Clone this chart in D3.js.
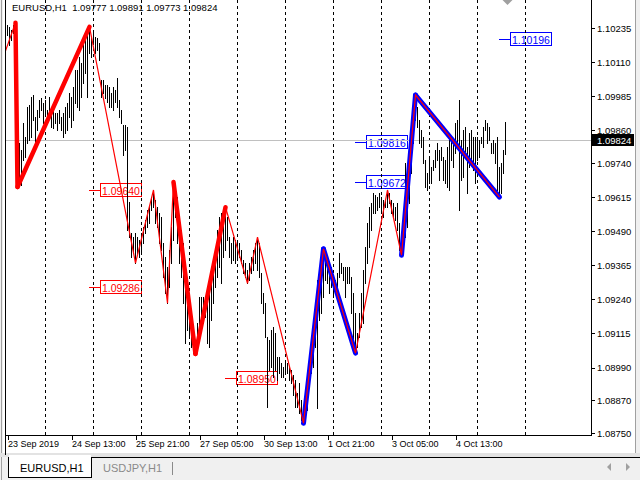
<!DOCTYPE html>
<html><head><meta charset="utf-8">
<script src="https://cdn.jsdelivr.net/npm/d3@7"></script>
<style>
body{margin:0;background:#f0f0f0}
svg{display:block}
text{font-family:"Liberation Sans",Arial,sans-serif}
</style>
</head><body>
<svg id="c" width="640" height="480"></svg>
<script>
const symbolName = "EURUSD,H1";
const lastOHLC = ["1.09777", "1.09891", "1.09773", "1.09824"];
const bidPrice = 1.09824;

// hourly bars, high and low
const highs = [
  1.10246,1.10239,1.10228,1.10246,1.10254,1.10166,1.09813,1.09788,1.09887,1.09835,
  1.09945,1.09953,1.09982,1.09989,1.09909,1.09934,1.09971,1.09978,1.09960,1.09971,
  1.09934,1.09982,1.09945,1.09934,1.09923,1.09923,1.09934,1.09909,1.09923,1.09945,
  1.09960,1.09997,1.09982,1.10019,1.10081,1.10081,1.10129,1.10107,1.10180,1.10202,
  1.10228,1.10239,1.10202,1.10228,1.10202,1.10199,1.10180,1.10044,1.10044,1.10026,
  1.10026,1.10019,1.09997,1.10019,1.10008,1.10052,1.09971,1.09934,1.09880,1.09880,
  1.09872,1.09597,1.09483,1.09468,1.09483,1.09468,1.09457,1.09483,1.09505,1.09531,
  1.09567,1.09578,1.09615,1.09641,1.09604,1.09578,1.09556,1.09542,1.09446,1.09395,
  1.09358,1.09421,1.09505,1.09670,1.09652,1.09615,1.09542,1.09494,1.09446,1.09347,
  1.09299,1.09226,1.09200,1.09138,1.09090,1.09153,1.09248,1.09248,1.09248,1.09226,
  1.09226,1.09263,1.09321,1.09395,1.09410,1.09494,1.09542,1.09556,1.09567,1.09578,
  1.09542,1.09468,1.09446,1.09468,1.09457,1.09446,1.09446,1.09421,1.09384,1.09373,
  1.09347,1.09373,1.09395,1.09421,1.09446,1.09468,1.09446,1.09336,1.09263,1.09226,
  1.09101,1.09090,1.09127,1.09138,1.09116,1.09028,1.09028,1.09006,1.08991,1.09006,
  1.09006,1.08991,1.08980,1.08962,1.08943,1.08896,1.08932,1.08870,1.08844,1.08907,
  1.08969,1.09028,1.09065,1.09138,1.09200,1.09310,1.09358,1.09384,1.09425,1.09410,
  1.09384,1.09373,1.09358,1.09321,1.09310,1.09336,1.09410,1.09373,1.09358,1.09358,
  1.09358,1.09358,1.09321,1.09263,1.09189,1.09116,1.09189,1.09263,1.09347,1.09432,
  1.09520,1.09578,1.09593,1.09630,1.09622,1.09615,1.09630,1.09615,1.09604,1.09604,
  1.09641,1.09630,1.09604,1.09593,1.09578,1.09593,1.09520,1.09468,1.09567,1.09740,
  1.09725,1.09824,1.09898,1.09960,1.09989,1.09945,1.09898,1.09861,1.09835,1.09751,
  1.09703,1.09762,1.09725,1.09751,1.09788,1.09813,1.09788,1.09799,1.09762,1.09751,
  1.09799,1.09824,1.09835,1.09824,1.09887,1.09898,1.09971,1.09824,1.09861,1.09872,
  1.09799,1.09850,1.09861,1.09835,1.09835,1.09835,1.09824,1.09835,1.09872,1.09898,
  1.09887,1.09872,1.09813,1.09824,1.09813,1.09835,1.09725,1.09740,1.09788,1.09891
];
const lows = [
  1.10210,1.10173,1.10191,1.10217,1.10100,1.09652,1.09666,1.09659,1.09751,1.09762,
  1.09813,1.09824,1.09835,1.09898,1.09813,1.09861,1.09909,1.09934,1.09887,1.09923,
  1.09887,1.09909,1.09872,1.09868,1.09887,1.09861,1.09887,1.09861,1.09835,1.09850,
  1.09861,1.09909,1.09872,1.09898,1.09960,1.09945,1.09934,1.09982,1.10033,1.10070,
  1.09982,1.10143,1.10129,1.10180,1.10143,1.10155,1.10118,1.09982,1.09997,1.09978,
  1.09964,1.09945,1.09945,1.09934,1.09964,1.09945,1.09909,1.09887,1.09769,1.09788,
  1.09494,1.09468,1.09395,1.09410,1.09373,1.09410,1.09395,1.09410,1.09446,1.09483,
  1.09505,1.09520,1.09567,1.09578,1.09520,1.09505,1.09446,1.09421,1.09321,1.09263,
  1.09226,1.09285,1.09373,1.09457,1.09542,1.09446,1.09373,1.09321,1.09226,1.09079,
  1.09127,1.09101,1.09065,1.09043,1.09040,1.09065,1.09101,1.09127,1.09153,1.09175,
  1.09079,1.09065,1.09164,1.09226,1.09285,1.09321,1.09358,1.09299,1.09395,1.09421,
  1.09457,1.09395,1.09373,1.09384,1.09373,1.09384,1.09395,1.09373,1.09336,1.09321,
  1.09299,1.09310,1.09336,1.09347,1.09373,1.09347,1.09321,1.09226,1.09189,1.09101,
  1.08844,1.08980,1.08991,1.08954,1.08980,1.08943,1.08969,1.08954,1.08954,1.08969,
  1.08969,1.08943,1.08932,1.08888,1.08844,1.08844,1.08822,1.08797,1.08786,1.08808,
  1.08833,1.08918,1.08969,1.08991,1.09065,1.08841,1.09164,1.09189,1.09248,1.09310,
  1.09299,1.09263,1.09285,1.09248,1.09263,1.09285,1.09321,1.09336,1.09310,1.09248,
  1.09299,1.09299,1.09189,1.09090,1.09043,1.09065,1.09101,1.09138,1.09153,1.09299,
  1.09373,1.09432,1.09494,1.09556,1.09556,1.09567,1.09578,1.09556,1.09542,1.09578,
  1.09578,1.09593,1.09556,1.09542,1.09531,1.09494,1.09421,1.09402,1.09410,1.09468,
  1.09505,1.09593,1.09703,1.09813,1.09898,1.09872,1.09813,1.09799,1.09740,1.09652,
  1.09641,1.09666,1.09666,1.09714,1.09725,1.09751,1.09677,1.09751,1.09677,1.09666,
  1.09652,1.09641,1.09751,1.09725,1.09777,1.09799,1.09567,1.09677,1.09688,1.09762,
  1.09630,1.09725,1.09751,1.09714,1.09666,1.09751,1.09762,1.09813,1.09799,1.09861,
  1.09813,1.09824,1.09777,1.09777,1.09740,1.09641,1.09615,1.09630,1.09703,1.09773
];

const priceTicks = ["1.10235","1.10110","1.09985","1.09860","1.09740","1.09615","1.09490",
                    "1.09365","1.09240","1.09115","1.08990","1.08870","1.08750"];
const timeLabels = ["23 Sep 2019","24 Sep 13:00","25 Sep 21:00","27 Sep 05:00",
                    "30 Sep 13:00","1 Oct 21:00","3 Oct 05:00","4 Oct 13:00"];
const timeLabelBars = [0, 32, 64, 96, 128, 160, 192, 224];

// zigzag pivots (bar index, price)
const pivotBars = [-3, 4, 5, 41, 64, 73, 80, 83, 94, 109, 120, 125, 148, 158, 174, 190, 197, 204, 246];
const pivotPrices = [1.10110, 1.10254, 1.09652, 1.10239, 1.09373, 1.09641, 1.09226, 1.09670, 1.09040,
                     1.09578, 1.09299, 1.09468, 1.08786, 1.09425, 1.09043, 1.09641, 1.09402, 1.09989, 1.09615];
const redLegs = [[4, 5], [5, 41], [83, 94], [94, 109]];
const blueLegs = [[148, 158], [158, 174], [197, 204], [204, 246]];

// price level labels
const levelBars = [41, 41, 109, 174, 174, 246];
const levelPrices = [1.09640, 1.09286, 1.08950, 1.09816, 1.09672, 1.10196];
const levelColors = ["#ff0000", "#ff0000", "#ff0000", "#0000ff", "#0000ff", "#0000ff"];

const tabNames = ["EURUSD,H1", "USDJPY,H1"];

// ---------------------------------------------------------------
const svg = d3.select("#c");
const plotL = 6, plotR = 591, plotT = 0, plotB = 435;
const x = d3.scaleLinear().domain([0, 292]).range([7, 591]);
const y = d3.scaleLinear().domain([1.08750, 1.10235]).range([433, 28]);
const px = b => x(b) + 0.5;
const pivot = b => pivotPrices[pivotBars.indexOf(b)];

// window background
svg.append("rect").attr("width", 640).attr("height", 480).attr("fill", "#f0f0f0");
svg.append("rect").attr("x", 3).attr("y", 0).attr("width", 632).attr("height", 454).attr("fill", "#fff");
svg.append("line").attr("x1", 1.5).attr("x2", 1.5).attr("y1", 0).attr("y2", 480).attr("stroke", "#a0a0a0");
svg.append("line").attr("x1", 635.5).attr("x2", 635.5).attr("y1", 0).attr("y2", 455).attr("stroke", "#a0a0a0");
svg.append("rect").attr("x", 0).attr("y", 453).attr("width", 640).attr("height", 4).attr("fill", "#e3e3e3");

svg.append("defs").append("clipPath").attr("id", "plot")
  .append("rect").attr("x", plotL).attr("y", plotT).attr("width", plotR - plotL).attr("height", plotB - plotT);

const plot = svg.append("g").attr("clip-path", "url(#plot)");

// level labels (background objects)
const lv = plot.append("g").selectAll("g").data(levelPrices).join("g")
  .attr("transform", (d, i) => `translate(${x(levelBars[i])},${Math.round(y(d)) + 0.5})`);
lv.append("line").attr("x1", 0).attr("x2", 11).attr("stroke", (d, i) => levelColors[i]);
lv.append("rect").attr("x", 11.5).attr("y", -7).attr("width", 41).attr("height", 13)
  .attr("fill", "#fff").attr("stroke", (d, i) => levelColors[i]).attr("shape-rendering", "crispEdges");
lv.append("text").attr("x", 13).attr("y", 4).attr("font-size", "10.5px")
  .attr("fill", (d, i) => levelColors[i]).text(d => d3.format(".5f")(d));

// dashed vertical grid
plot.append("g").selectAll("line").data(d3.range(19, 262, 24)).join("line")
  .attr("x1", d => px(d)).attr("x2", d => px(d)).attr("y1", plotT).attr("y2", plotB)
  .attr("stroke", "#000").attr("stroke-dasharray", "3,3").attr("shape-rendering", "crispEdges");

// bid line
plot.append("line").attr("x1", plotL).attr("x2", plotR)
  .attr("y1", Math.round(y(bidPrice)) + 0.5).attr("y2", Math.round(y(bidPrice)) + 0.5)
  .attr("stroke", "#c0c0c0");

// bars
plot.append("g").selectAll("line").data(highs).join("line")
  .attr("x1", (d, i) => px(i)).attr("x2", (d, i) => px(i))
  .attr("y1", d => Math.round(y(d))).attr("y2", (d, i) => Math.round(y(lows[i])) + 1)
  .attr("stroke", "#000").attr("shape-rendering", "crispEdges");

// zigzag legs
const legLine = (legs, color, w) => plot.append("g").selectAll("line").data(legs).join("line")
  .attr("x1", d => px(d[0])).attr("y1", d => y(pivot(d[0])))
  .attr("x2", d => px(d[1])).attr("y2", d => y(pivot(d[1])))
  .attr("stroke", color).attr("stroke-width", w).attr("stroke-linecap", "round");
legLine(redLegs, "#ff0000", 4.5);
legLine(blueLegs, "#0000ff", 5);

const zz = d3.line().x(d => px(d)).y(d => y(pivot(d)));
plot.append("path").attr("d", zz(pivotBars)).attr("fill", "none")
  .attr("stroke", "#ff0000").attr("stroke-width", 1.2);

// shift marker
svg.append("path").attr("d", d3.line()([[px(249) - 3, 0], [px(249) + 7, 0], [px(249) + 2, 5]]) + "Z")
  .attr("fill", "#a0a0a0");

// frame lines
svg.append("line").attr("x1", plotL - 0.5).attr("x2", plotL - 0.5).attr("y1", 0).attr("y2", 455).attr("stroke", "#000");
svg.append("line").attr("x1", plotR + 0.5).attr("x2", plotR + 0.5).attr("y1", 0).attr("y2", plotB + 1).attr("stroke", "#000");
svg.append("line").attr("x1", plotL).attr("x2", plotR + 1).attr("y1", plotB + 0.5).attr("y2", plotB + 0.5).attr("stroke", "#000");

// price axis
const ya = svg.append("g").attr("transform", `translate(${plotR + 1},0)`)
  .attr("shape-rendering", "crispEdges")
  .call(d3.axisRight(y).tickValues(priceTicks.map(Number)).tickFormat((d, i) => priceTicks[i])
    .tickSize(3).tickPadding(2).tickSizeOuter(0));
ya.select(".domain").remove();
ya.selectAll("text").attr("font-size", "9.5px").attr("font-family", "Liberation Sans, Arial, sans-serif").attr("fill", "#000");

// bid price box
const by = Math.round(y(bidPrice));
svg.append("rect").attr("x", plotR + 1).attr("y", by - 6).attr("width", 42).attr("height", 12).attr("fill", "#000");
svg.append("text").attr("x", 597).attr("y", by + 3.5).attr("font-size", "9.5px").attr("fill", "#fff")
  .text(d3.format(".5f")(bidPrice));

// time axis
const xa = svg.append("g").attr("transform", `translate(0.5,${plotB + 1})`)
  .attr("shape-rendering", "crispEdges")
  .call(d3.axisBottom(x).tickValues(timeLabelBars).tickFormat((d, i) => timeLabels[i])
    .tickSize(4).tickPadding(1).tickSizeOuter(0));
xa.select(".domain").remove();
xa.selectAll("text").attr("text-anchor", "start").attr("font-size", "9px")
  .attr("font-family", "Liberation Sans, Arial, sans-serif").attr("fill", "#000");

// header
svg.append("text").attr("x", 12).attr("y", 11).attr("font-size", "9.5px").attr("fill", "#000")
  .attr("xml:space", "preserve")
  .text(symbolName + "  " + lastOHLC.join(" "));

// tabs
svg.append("line").attr("x1", 92).attr("x2", 640).attr("y1", 457.5).attr("y2", 457.5).attr("stroke", "#000");
svg.append("rect").attr("x", 8.5).attr("y", 457).attr("width", 83).attr("height", 20.5)
  .attr("fill", "#fff").attr("stroke", "#000").attr("shape-rendering", "crispEdges");
svg.append("rect").attr("x", 9).attr("y", 455).attr("width", 82).attr("height", 3).attr("fill", "#fff");
svg.append("text").attr("x", 20).attr("y", 472).attr("font-size", "11px").attr("fill", "#000").text(tabNames[0]);
svg.append("text").attr("x", 103).attr("y", 472).attr("font-size", "11px").attr("fill", "#8a8a8a").text(tabNames[1]);
svg.append("line").attr("x1", 172.5).attr("x2", 172.5).attr("y1", 462).attr("y2", 475).attr("stroke", "#8a8a8a");
svg.append("path").attr("d", "M611,463 L607,467 L611,471 Z").attr("fill", "#a0a0a0");
svg.append("path").attr("d", "M626,463 L630,467 L626,471 Z").attr("fill", "#a0a0a0");
</script>
</body></html>
